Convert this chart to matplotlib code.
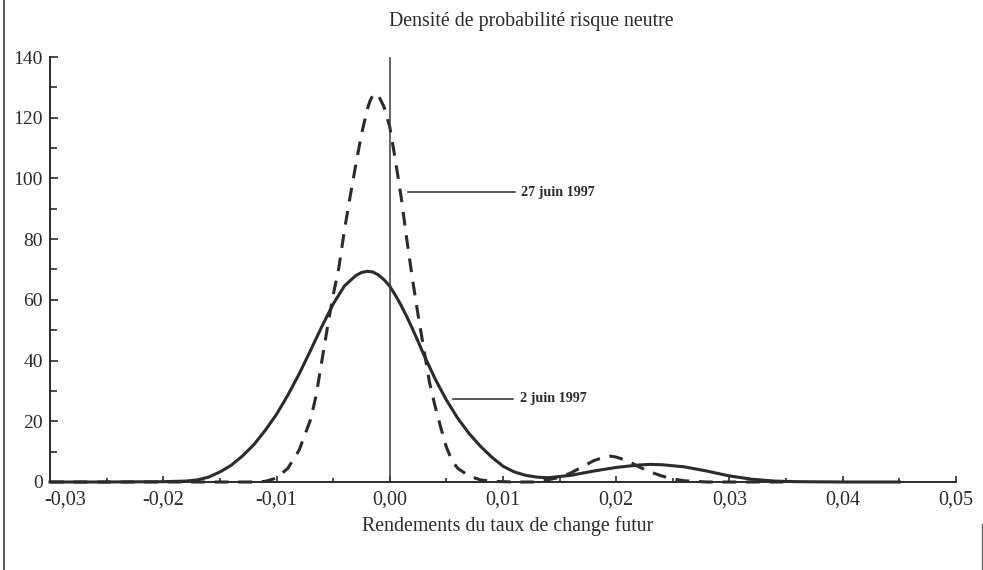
import matplotlib.pyplot as plt
from matplotlib.lines import Line2D
from matplotlib.transforms import ScaledTranslation

plt.rcParams['font.family'] = ['Liberation Serif', 'DejaVu Serif']

# Rendements (x) et densités
x_juin02 = [-0.030, -0.025, -0.020, -0.018, -0.017, -0.016, -0.015, -0.014, -0.013,
            -0.012, -0.011, -0.010, -0.009, -0.008, -0.007, -0.006, -0.005, -0.004,
            -0.003, -0.0025, -0.002, -0.0015, -0.001, -0.0005, 0.000, 0.0005, 0.001,
            0.0015, 0.002, 0.0025, 0.003, 0.004, 0.005, 0.006, 0.007, 0.008, 0.009,
            0.010, 0.011, 0.012, 0.013, 0.014, 0.016, 0.018, 0.020, 0.022, 0.023,
            0.024, 0.026, 0.028, 0.030, 0.032, 0.034, 0.036, 0.040, 0.045]
y_juin02 = [0.0, 0.0, 0.1, 0.3, 0.7, 1.6, 3.3, 5.5, 8.6,
            12.3, 17.0, 22.3, 28.6, 35.6, 43.3, 51.2, 58.6, 64.6,
            68.0, 69.0, 69.4, 69.2, 68.2, 66.6, 64.5, 61.5, 58.2,
            54.5, 50.5, 46.3, 42.0, 34.0, 27.0, 21.0, 16.0, 11.8, 8.2,
            5.2, 3.3, 2.2, 1.6, 1.4, 2.2, 3.6, 4.8, 5.6, 5.8,
            5.7, 5.0, 3.6, 2.0, 0.9, 0.3, 0.1, 0.0, 0.0]

x_juin27 = [-0.030, -0.015, -0.012, -0.011, -0.010, -0.009, -0.008, -0.007, -0.0065,
            -0.006, -0.0055, -0.005, -0.0045, -0.004, -0.0035, -0.003, -0.0025,
            -0.002, -0.00175, -0.0015, -0.00125, -0.001, -0.0005, 0.000, 0.0005,
            0.001, 0.0015, 0.002, 0.0025, 0.003, 0.0035, 0.004, 0.0045, 0.005,
            0.0055, 0.006, 0.007, 0.008, 0.009, 0.011, 0.013, 0.015, 0.016, 0.017,
            0.018, 0.019, 0.0195, 0.020, 0.021, 0.022, 0.023, 0.024, 0.025, 0.026,
            0.028, 0.035]
y_juin27 = [0.0, 0.0, 0.0, 0.2, 1.3, 4.5, 10.5, 20.5, 28.5,
            39.8, 51.0, 61.5, 70.5, 83.0, 94.0, 104.5, 114.5,
            122.5, 125.5, 127.3, 128.0, 127.3, 123.5, 117.0, 106.0,
            94.0, 80.0, 67.0, 55.0, 44.0, 33.0, 25.0, 18.0, 11.5,
            7.0, 4.5, 2.0, 0.7, 0.2, 0.0, 0.0, 1.5, 3.0, 5.0,
            7.0, 8.3, 8.5, 8.2, 7.0, 5.0, 3.3, 2.0, 1.0, 0.4,
            0.0, 0.0]

xticks = [-0.03, -0.02, -0.01, 0.00, 0.01, 0.02, 0.03, 0.04, 0.05]
xlabels = ['-0,03', '-0,02', '-0,01', '0,00', '0,01', '0,02', '0,03', '0,04', '0,05']
yticks = [0, 20, 40, 60, 80, 100, 120, 140]

ink = '#2b2b2b'

fig = plt.figure(figsize=(9.83, 5.70), dpi=100)
ax = fig.add_axes([0.0509, 0.1544, 0.9216, 0.7456])

ax.plot(x_juin02, y_juin02, color=ink, lw=2.2, solid_joinstyle='round', clip_on=False)
ax.plot(x_juin27, y_juin27, color=ink, lw=2.2, dashes=(4.5, 3.2), clip_on=False)
ax.plot([0, 0], [0, 140], color='#3a3a3a', lw=1.1)

# étiquettes des courbes
ax.plot([0.0016, 0.0111], [95.4, 95.4], color=ink, lw=1.1)
ax.text(0.0116, 95.4, '27 juin 1997', fontsize=10.2, fontweight='bold',
        color=ink, va='center', ha='left')
ax.plot([0.0056, 0.0109], [27.4, 27.4], color=ink, lw=1.1)
ax.text(0.0115, 27.4, '2 juin 1997', fontsize=10.2, fontweight='bold',
        color=ink, va='center', ha='left')

ax.set_xlim(-0.03, 0.05)
ax.set_ylim(0, 140)
ax.set_xticks(xticks)
ax.set_xticklabels(xlabels)
ax.set_xticks([-0.025, -0.015, -0.005, 0.005, 0.015, 0.025, 0.035, 0.045], minor=True)
ax.set_yticks(yticks)
ax.set_yticks([10, 30, 50, 70, 90, 110, 130], minor=True)

for side in ['top', 'right']:
    ax.spines[side].set_visible(False)
for side in ['left', 'bottom']:
    ax.spines[side].set_linewidth(1.4)
    ax.spines[side].set_color(ink)

ax.tick_params(axis='x', which='major', direction='in', length=4.5, width=1.2,
               pad=6, labelsize=14.5, colors=ink)
ax.tick_params(axis='x', which='minor', direction='in', length=3, width=1.2, colors=ink)
ax.tick_params(axis='y', which='major', direction='in', length=6, width=1.2,
               pad=5, labelsize=14, colors=ink)
ax.tick_params(axis='y', which='minor', direction='in', length=5, width=1.2, colors=ink)

# décalage du premier libellé pour ne pas toucher l'axe vertical
first = ax.get_xticklabels()[0]
first.set_transform(first.get_transform() + ScaledTranslation(15 / 100, 0, fig.dpi_scale_trans))

fig.text(0.540, 0.962, 'Densité de probabilité risque neutre', fontsize=14.3,
         color=ink, ha='center', va='center')
fig.text(0.516, 0.077, 'Rendements du taux de change futur', fontsize=14.3,
         color=ink, ha='center', va='center')

# traits du cadre (page scannée)
fig.add_artist(Line2D([0.0045, 0.0045], [0.0, 1.0], color='#444444', lw=1.3))
fig.add_artist(Line2D([0.9985, 0.9985], [0.0, 0.08], color='#666666', lw=1.0))

fig.savefig('out.png', dpi=100)
